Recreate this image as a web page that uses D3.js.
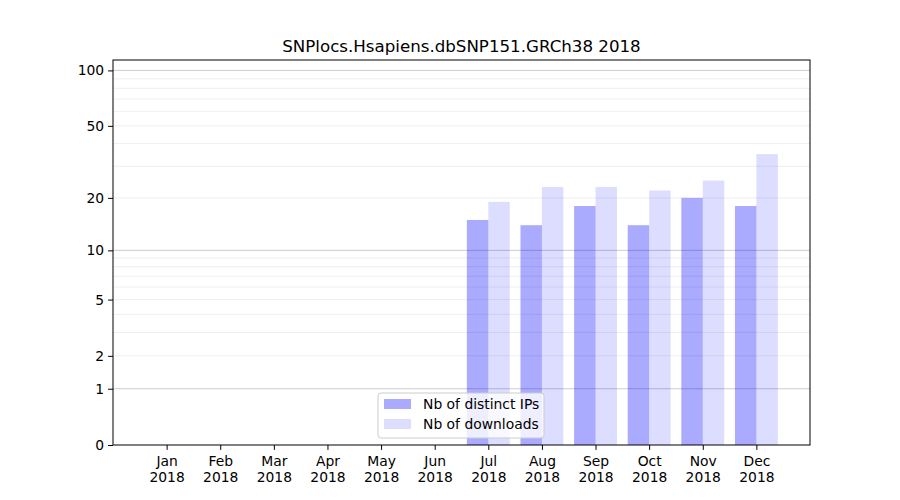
<!DOCTYPE html>
<html><head><meta charset="utf-8">
<script src="https://cdn.jsdelivr.net/npm/d3@7"></script>
<style>body{margin:0;background:#fff;} text{font-family:"DejaVu Sans",sans-serif;}</style>
</head><body>
<svg id="c" width="900" height="500"></svg>
<script>
const months = ["Jan","Feb","Mar","Apr","May","Jun","Jul","Aug","Sep","Oct","Nov","Dec"];
const year = "2018";
const distinctIPs = [0,0,0,0,0,0,15,14,18,14,20,18];
const downloads   = [0,0,0,0,0,0,19,23,23,22,25,35];
const yTicks = [0,1,2,5,10,20,50,100];
const yMajorGrid = [1,10,100];
const yMinorGrid = [2,3,4,5,6,7,8,9,20,30,40,50,60,70,80,90];
const title = "SNPlocs.Hsapiens.dbSNP151.GRCh38 2018";
const legendLabels = ["Nb of distinct IPs","Nb of downloads"];

const FS = "13.89px";
const svg = d3.select("#c");
const L=113, R=810, T=60, B=445;
const x = d3.scaleLinear().domain([-1,12]).range([L,R]);
const tf = v => Math.log10(1+v);
const ys = d3.scaleLinear().domain([0,2.06]).range([B,T]);
const y = v => ys(tf(v));

// grid
svg.append("g").selectAll("line").data(yMinorGrid).join("line")
  .attr("x1",L).attr("x2",R).attr("y1",d=>y(d)).attr("y2",d=>y(d))
  .attr("stroke","#ebebeb").attr("stroke-width",0.8);
svg.append("g").selectAll("line").data(yMajorGrid).join("line")
  .attr("x1",L).attr("x2",R).attr("y1",d=>y(d)).attr("y2",d=>y(d))
  .attr("stroke","#cccccc").attr("stroke-width",1);

const bw = 0.4;
svg.append("g").selectAll("rect").data(distinctIPs).join("rect")
  .attr("x",(d,i)=>x(i-bw)).attr("width",x(bw)-x(0))
  .attr("y",d=>y(d)).attr("height",d=>B-y(d))
  .attr("fill","blue").attr("fill-opacity",0.333);
svg.append("g").selectAll("rect").data(downloads).join("rect")
  .attr("x",(d,i)=>x(i)).attr("width",x(bw)-x(0))
  .attr("y",d=>y(d)).attr("height",d=>B-y(d))
  .attr("fill","blue").attr("fill-opacity",0.133);

// frame
svg.append("rect").attr("x",L).attr("y",T).attr("width",R-L).attr("height",B-T)
  .attr("fill","none").attr("stroke","#000").attr("stroke-width",1);

// y axis
const yAxis = d3.axisLeft(ys).tickValues(yTicks.map(tf)).tickFormat((d,i)=>yTicks[i]).tickSize(4.9).tickPadding(4);
const ga = svg.append("g").attr("transform",`translate(${L},0)`).call(yAxis);
ga.select(".domain").remove();
ga.selectAll("text").attr("font-size",FS).attr("font-family","DejaVu Sans").attr("fill","#000");
ga.selectAll("line").attr("stroke","#000");

// x axis
const xAxis = d3.axisBottom(x).tickValues(d3.range(12)).tickFormat(()=> "").tickSize(4.9);
const gx = svg.append("g").attr("transform",`translate(0,${B})`).call(xAxis);
gx.select(".domain").remove();
gx.selectAll("line").attr("stroke","#000");
gx.selectAll(".tick").each(function(d,i){
  const t = d3.select(this).append("text").attr("fill","#000").attr("font-size",FS)
    .attr("text-anchor","middle").attr("font-family","DejaVu Sans");
  t.append("tspan").attr("x",0).attr("y",21).text(months[i]);
  t.append("tspan").attr("x",0).attr("y",37).text(year);
});

// title
svg.append("text").attr("x",(L+R)/2).attr("y",52).attr("text-anchor","middle")
  .attr("font-size","16.67px").text(title);

// legend
const lg = svg.append("g");
lg.append("rect").attr("x",378).attr("y",393).attr("width",166).attr("height",45)
  .attr("rx",3).attr("fill","#fff").attr("fill-opacity",0.8).attr("stroke","#ccc").attr("stroke-width",1);
const cols = [0.333,0.133];
legendLabels.forEach((lab,i)=>{
  lg.append("rect").attr("x",384).attr("y",399+i*20).attr("width",27).attr("height",10)
    .attr("fill","blue").attr("fill-opacity",cols[i]);
  lg.append("text").attr("x",423).attr("y",409+i*20).attr("font-size",FS).text(lab);
});
</script>
</body></html>
